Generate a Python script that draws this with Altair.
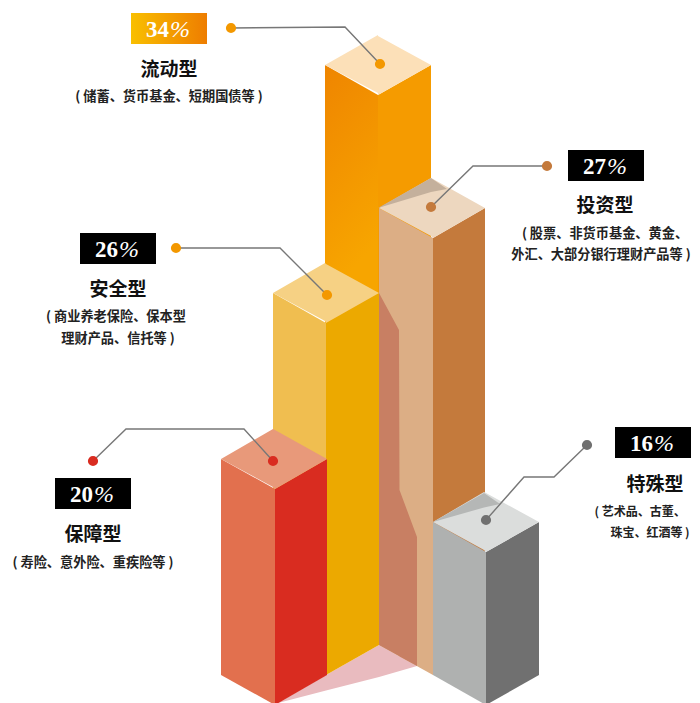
import altair as alt
import pandas as pd

# ---- content -------------------------------------------------
names = ["流动型", "投资型", "安全型", "保障型", "特殊型"]
digits = ["34", "27", "26", "20", "16"]
notes = [
    ["( 储蓄、货币基金、短期国债等 )"],
    ["( 股票、非货币基金、黄金、", "外汇、大部分银行理财产品等 )"],
    ["( 商业养老保险、保本型", "理财产品、信托等 )"],
    ["( 寿险、意外险、重疾险等 )"],
    ["( 艺术品、古董、", "珠宝、红酒等 )"],
]
name_x = [169, 605, 118, 93, 655]
name_y = [68, 204, 288, 533, 483]
note_x = [[169], [605, 601], [116, 118], [93], [640, 650]]
note_y = [[95], [232, 253], [315, 337], [561], [510, 531]]
note_size = [13.2, 13.2, 13.2, 13.2, 12]
box_x = [131, 568, 80, 55, 615]
box_y = [13, 150, 233, 478, 427]
box_w = 76
box_h = 31

# ---- prisms: left, apex, front, right x, left-corner top y, left-corner base y
prism_left = [325, 379, 273, 221, 433]
prism_apex = [378, 431, 325, 273, 484]
prism_front = [378, 433, 326, 275, 486]
prism_right = [431, 485, 379, 327, 539]
prism_top = [65, 208, 293, 459, 522]
prism_base = [615, 645, 645, 675, 675]
face_left = ["#F08A00", "#DCAE85", "#F0BE50", "#E2704E", "#AFB1B0"]
face_right = ["#F59B00", "#C47A3C", "#ECA900", "#D92C20", "#707070"]
face_top = ["#FCE0B8", "#EDD7BF", "#F6D184", "#E8997A", "#DBDDDC"]

# ---- leaders
leader_x = [[231, 345, 380], [547, 473, 431], [176, 280, 327], [93, 126, 244, 273], [587, 554, 524, 486]]
leader_y = [[28, 27, 64], [166, 166, 207], [248, 248, 295], [461, 429, 429, 461], [445, 477, 477, 520]]
dot_color = ["#F39800", "#C47A3C", "#F39800", "#D92C20", "#707070"]

# ---- shadows as (x, upper y, lower y)
pink_shadow = [(278, 703, 703), (326, 675, 690.5), (379, 645, 677), (417, 666, 666)]
tan_shadow = [(379, 293, 645), (399, 330, 656), (399.5, 490, 656.5), (417, 537, 666)]
tan_roof_shadow = [(378, 208, 208), (431, 178, 192), (447, 189, 189)]
grey_roof_shadow = [(433, 522, 522), (484, 493, 507.5), (500, 504, 504)]

X = alt.Scale(domain=[8, 692], nice=False, zero=False)
Y = alt.Scale(domain=[703, 8], nice=False, zero=False)


def area(rows, fill):
    df = pd.DataFrame(rows, columns=["x", "y", "y2"])
    return alt.Chart(df).mark_area(color=fill, opacity=1, line=False).encode(
        x=alt.X("x:Q", scale=X, axis=None),
        y=alt.Y("y:Q", scale=Y, axis=None),
        y2="y2:Q",
    )


def prism(i, left_fill=None):
    l, a, f, r = prism_left[i], prism_apex[i], prism_front[i], prism_right[i]
    t, b = prism_top[i], prism_base[i]
    rise = 30
    parts = [
        area([(l, t, b), (f, t + rise, b + rise)], left_fill or face_left[i]),
        area([(f, t + rise, b + rise), (r, t, b)], face_right[i]),
        area([(l, t, t), (a, t - rise, t + rise - 2), (f, t - rise + 1, t + rise), (r, t, t)], face_top[i]),
    ]
    return parts


orange_grad = alt.Gradient(
    gradient="linear", x1=0, x2=0.1, y1=0, y2=1,
    stops=[alt.GradientStop(color="#EF8500", offset=0),
           alt.GradientStop(color="#F7A500", offset=0.4),
           alt.GradientStop(color="#F7A500", offset=1)],
)

layers = []
layers += prism(0, orange_grad)
layers.append(area(pink_shadow, "#E9BBBF"))
layers += prism(1)
layers.append(area(tan_shadow, "#C87F63"))
layers.append(area(tan_roof_shadow, "#C4B09C"))
layers += prism(2)
layers += prism(3)
layers += prism(4)
layers.append(area(grey_roof_shadow, "#B5B7B6"))

# leaders and dots
for i in range(5):
    df = pd.DataFrame({"x": leader_x[i], "y": leader_y[i], "o": range(len(leader_x[i]))})
    layers.append(alt.Chart(df).mark_line(color="#777777", strokeWidth=1.4).encode(
        x=alt.X("x:Q", scale=X, axis=None), y=alt.Y("y:Q", scale=Y, axis=None), order="o:Q"))
    ends = df.iloc[[0, -1]]
    layers.append(alt.Chart(ends).mark_circle(color=dot_color[i], opacity=1, size=104).encode(
        x=alt.X("x:Q", scale=X, axis=None), y=alt.Y("y:Q", scale=Y, axis=None)))

# percent boxes
box_grad = alt.Gradient(
    gradient="linear", x1=0, x2=1, y1=0, y2=0,
    stops=[alt.GradientStop(color="#F9BF00", offset=0), alt.GradientStop(color="#EE7D00", offset=1)],
)
for i in range(5):
    df = pd.DataFrame({"x": [box_x[i]], "x2": [box_x[i] + box_w], "y": [box_y[i]], "y2": [box_y[i] + box_h]})
    layers.append(alt.Chart(df).mark_rect(color=box_grad if i == 0 else "#000000", opacity=1).encode(
        x=alt.X("x:Q", scale=X, axis=None), x2="x2:Q",
        y=alt.Y("y:Q", scale=Y, axis=None), y2="y2:Q"))

pct_df = pd.DataFrame({"x": [b + box_w / 2 for b in box_x],
                       "y": [b + box_h / 2 for b in box_y], "t": digits, "p": ["%"] * 5})
layers.append(alt.Chart(pct_df).mark_text(
    font="Liberation Serif", fontWeight="bold", fontSize=23, color="#FFFFFF", align="right", baseline="middle", dx=0, dy=1
).encode(x=alt.X("x:Q", scale=X, axis=None), y=alt.Y("y:Q", scale=Y, axis=None), text="t:N"))
layers.append(alt.Chart(pct_df).mark_text(
    font="Liberation Serif", fontStyle="italic", fontSize=24, color="#FFFFFF", align="left", baseline="middle", dx=1, dy=1
).encode(x=alt.X("x:Q", scale=X, axis=None), y=alt.Y("y:Q", scale=Y, axis=None), text="p:N"))

name_df = pd.DataFrame({"x": name_x, "y": name_y, "t": names})
layers.append(alt.Chart(name_df).mark_text(
    font="Noto Sans CJK SC", fontWeight="bold", fontSize=19, color="#111111", align="center", baseline="middle", dy=2
).encode(x=alt.X("x:Q", scale=X, axis=None), y=alt.Y("y:Q", scale=Y, axis=None), text="t:N"))

for i in range(5):
    rows = [{"x": note_x[i][j], "y": note_y[i][j], "t": line} for j, line in enumerate(notes[i])]
    layers.append(alt.Chart(pd.DataFrame(rows)).mark_text(
        font="Noto Sans CJK SC", fontWeight="bold", fontSize=note_size[i], color="#222222", align="center", baseline="middle", dy=2
    ).encode(x=alt.X("x:Q", scale=X, axis=None), y=alt.Y("y:Q", scale=Y, axis=None), text="t:N"))

chart = alt.layer(*layers).properties(
    width=684, height=695, padding=0,
    autosize=alt.AutoSizeParams(type="none"),
).configure_view(stroke=None)

chart.save("out.html", embed_options={"renderer": "svg", "actions": False})
